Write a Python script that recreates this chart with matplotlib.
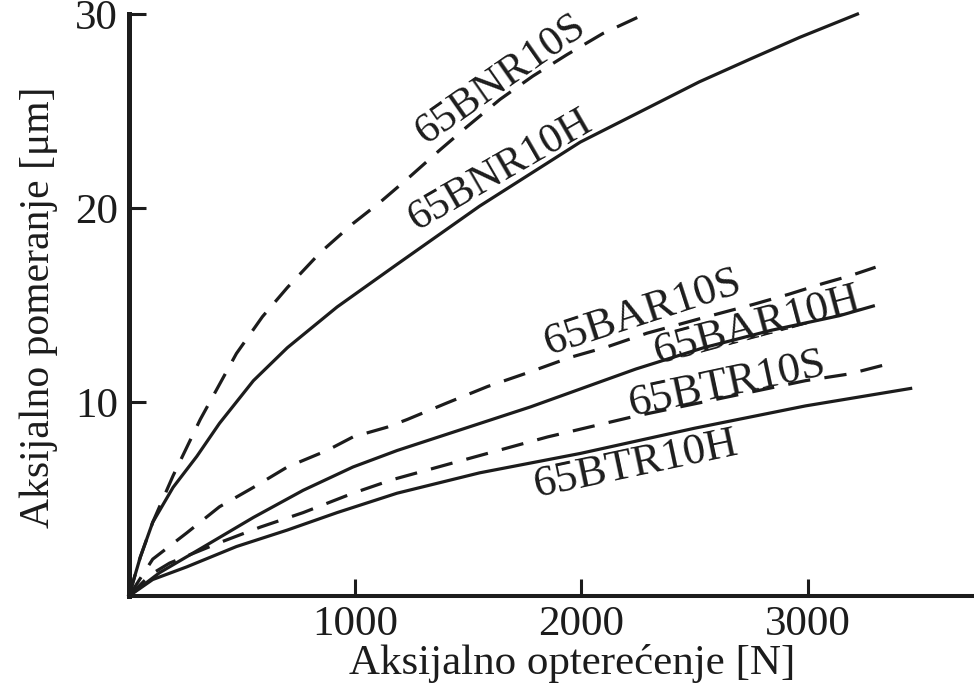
import matplotlib
matplotlib.use("Agg")
import matplotlib.pyplot as plt

plt.rcParams['font.family'] = ['Liberation Serif', 'DejaVu Serif']

# Axial load [N] vs axial displacement [um] for six bearing types
bnr10s_x = [0, 50, 105, 195, 315, 475, 590, 700, 845, 990, 1110, 1240, 1375, 1495, 1640, 1785, 1935, 2095, 2280]
bnr10s_y = [0, 2.0, 3.8, 6.2, 9.1, 12.5, 14.4, 15.9, 17.7, 19.2, 20.3, 21.6, 23.0, 24.2, 25.6, 26.8, 27.9, 29.0, 30.0]

bnr10h_x = [0, 50, 105, 195, 300, 400, 550, 700, 920, 1185, 1550, 1995, 2300, 2520, 2750, 2965, 3220]
bnr10h_y = [0, 2.0, 3.8, 5.6, 7.2, 8.9, 11.1, 12.8, 14.9, 17.1, 20.1, 23.4, 25.2, 26.5, 27.7, 28.8, 30.0]

bar10s_x = [0, 105, 255, 400, 550, 700, 875, 990, 1140, 1230, 1405, 1585, 1760, 1950, 2115, 2290, 2540, 2765, 2915, 3065, 3185, 3300]
bar10s_y = [0, 1.9, 3.25, 4.6, 5.6, 6.65, 7.5, 8.2, 8.7, 9.1, 9.95, 10.8, 11.5, 12.3, 12.85, 13.55, 14.35, 15.05, 15.55, 16.1, 16.5, 16.95]

bar10h_x = [0, 135, 325, 550, 770, 990, 1185, 1775, 2240, 2540, 2840, 3140, 3290]
bar10h_y = [0, 1.2, 2.5, 4.05, 5.45, 6.65, 7.5, 9.75, 11.7, 12.8, 13.7, 14.45, 14.95]

btr10s_x = [0, 95, 180, 400, 580, 770, 990, 1165, 1475, 1850, 2230, 2600, 2990, 3185, 3335]
btr10s_y = [0, 1.1, 1.7, 2.75, 3.55, 4.3, 5.3, 6.0, 7.0, 8.2, 9.25, 10.15, 11.1, 11.45, 11.9]

btr10h_x = [0, 105, 255, 475, 700, 920, 1185, 1550, 1995, 2500, 2990, 3455]
btr10h_y = [0, 0.85, 1.5, 2.55, 3.4, 4.3, 5.3, 6.35, 7.35, 8.65, 9.8, 10.7]

x_ticks = [1000, 2000, 3000]
y_ticks = [10, 20, 30]

# curve name, label centre (data coords), label angle, font size
labels = [
    ("65BNR10S", 1640, 26.6, 35, 31),
    ("65BNR10H", 1640, 21.9, 30, 31),
    ("65BAR10S", 2270, 14.6, 18, 32),
    ("65BAR10H", 2775, 13.95, 15, 32),
    ("65BTR10S", 2645, 10.9, 12, 32),
    ("65BTR10H", 2240, 6.75, 12, 32),
]

ink = "#1c1c1c"
fig = plt.figure(figsize=(9.74, 6.85), dpi=100)
ax = fig.add_axes([0.1324, 0.1299, 0.8676, 0.8496])

dash = (0, (7.0, 4.5))
lw = 2.3
ax.plot(bnr10s_x, bnr10s_y, color=ink, lw=lw, linestyle=dash, clip_on=False)
ax.plot(bnr10h_x, bnr10h_y, color=ink, lw=lw, clip_on=False)
ax.plot(bar10s_x, bar10s_y, color=ink, lw=lw, linestyle=dash, clip_on=False)
ax.plot(bar10h_x, bar10h_y, color=ink, lw=lw, clip_on=False)
ax.plot(btr10s_x, btr10s_y, color=ink, lw=lw, linestyle=dash, clip_on=False)
ax.plot(btr10h_x, btr10h_y, color=ink, lw=lw, clip_on=False)

for name, lx, ly, ang, fs in labels:
    ax.text(lx, ly, name, rotation=ang, ha="center", va="center",
            rotation_mode="anchor", fontsize=fs, color=ink)

ax.set_xlim(0, 3735)
ax.set_ylim(0, 30)
ax.set_xticks(x_ticks)
ax.set_yticks(y_ticks)
ax.spines["top"].set_visible(False)
ax.spines["right"].set_visible(False)
ax.spines["left"].set_linewidth(3.6)
ax.spines["bottom"].set_linewidth(2.9)
ax.spines["left"].set_color(ink)
ax.spines["bottom"].set_color(ink)
ax.tick_params(axis="both", direction="in", length=12, width=2.2, color=ink,
               labelsize=31, labelcolor=ink)
ax.tick_params(axis="y", pad=8)
ax.tick_params(axis="x", pad=7)

ax.set_xlabel("Aksijalno opterećenje [N]", fontsize=31, color=ink, va="top")
ax.xaxis.set_label_coords(0.524, -0.082)
ax.set_ylabel("Aksijalno pomeranje [μm]", fontsize=30, color=ink, va="center")
ax.yaxis.set_label_coords(-0.107, 0.497)

fig.savefig("out.png", dpi=100)
